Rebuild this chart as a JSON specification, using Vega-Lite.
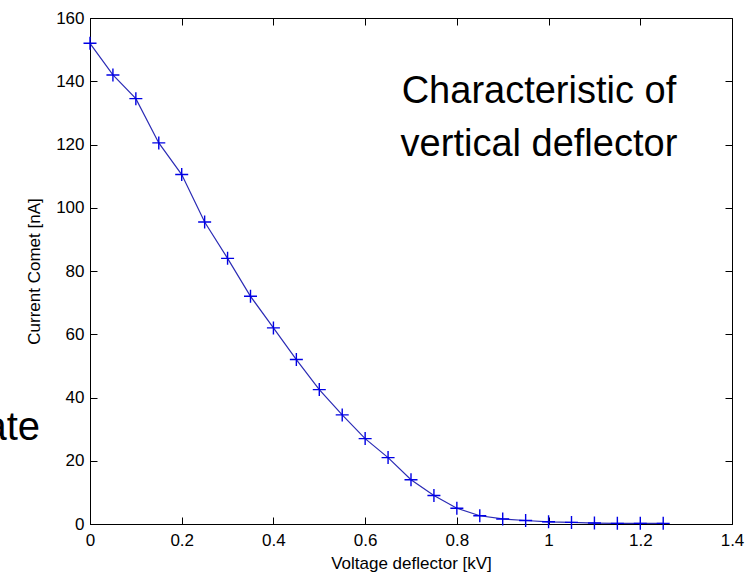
{
  "$schema": "https://vega.github.io/schema/vega-lite/v6.json",
  "autosize": {"type": "none"},
  "width": 642,
  "height": 506,
  "padding": {"left": 90, "top": 18, "right": 23, "bottom": 54},
  "background": "white",
  "config": {
    "view": {"stroke": "black", "strokeWidth": 1},
    "axis": {
      "grid": false,
      "domainColor": "black",
      "tickColor": "black",
      "labelColor": "black",
      "titleColor": "black",
      "labelFont": "Liberation Sans",
      "titleFont": "Liberation Sans",
      "labelFontSize": 17,
      "titleFontSize": 17,
      "titleFontWeight": "normal",
      "labelFlush": false,
      "tickSize": -7
    }
  },
  "datasets": {
    "curve": [
      {"v": 0.00, "i": 152},
      {"v": 0.05, "i": 142},
      {"v": 0.10, "i": 134.5},
      {"v": 0.15, "i": 120.5},
      {"v": 0.20, "i": 110.5},
      {"v": 0.25, "i": 95.5},
      {"v": 0.30, "i": 84},
      {"v": 0.35, "i": 72},
      {"v": 0.40, "i": 62},
      {"v": 0.45, "i": 52},
      {"v": 0.50, "i": 42.5},
      {"v": 0.55, "i": 34.5},
      {"v": 0.60, "i": 27},
      {"v": 0.65, "i": 21},
      {"v": 0.70, "i": 14},
      {"v": 0.75, "i": 9},
      {"v": 0.80, "i": 5},
      {"v": 0.85, "i": 2.6},
      {"v": 0.90, "i": 1.6},
      {"v": 0.95, "i": 1.1},
      {"v": 1.00, "i": 0.7},
      {"v": 1.05, "i": 0.5},
      {"v": 1.10, "i": 0.3},
      {"v": 1.15, "i": 0.2},
      {"v": 1.20, "i": 0.2},
      {"v": 1.25, "i": 0.2}
    ],
    "titleNote": [
      {"v": 0.979, "i": 133.2, "t": "Characteristic of"},
      {"v": 0.979, "i": 116.4, "t": "vertical deflector"}
    ],
    "sideNote": [
      {"v": -0.109, "i": 26.6, "t": "ate"}
    ]
  },
  "layer": [
    {
      "data": {"name": "curve"},
      "mark": {"type": "line", "color": "#2b2bb5", "strokeWidth": 1.2},
      "encoding": {
        "x": {"field": "v", "type": "quantitative", "scale": {"domain": [0, 1.4], "nice": false},
          "axis": {"title": "Voltage deflector [kV]", "values": [0, 0.2, 0.4, 0.6, 0.8, 1, 1.2, 1.4], "format": "~g", "labelPadding": 15, "titlePadding": 7}},
        "y": {"field": "i", "type": "quantitative", "scale": {"domain": [0, 160], "nice": false},
          "axis": {"title": "Current Comet [nA]", "values": [0, 20, 40, 60, 80, 100, 120, 140, 160], "labelPadding": 13, "titlePadding": 12}}
      }
    },
    {
      "data": {"name": "curve"},
      "mark": {"type": "point", "shape": "M-1,0L1,0M0,-1L0,1", "size": 169, "filled": false, "color": "#0000e6", "strokeWidth": 1.4, "opacity": 1},
      "encoding": {
        "x": {"field": "v", "type": "quantitative", "axis": {"orient": "top", "labels": false, "domain": false, "title": null, "values": [0, 0.2, 0.4, 0.6, 0.8, 1, 1.2, 1.4]}},
        "y": {"field": "i", "type": "quantitative", "axis": {"orient": "right", "labels": false, "domain": false, "title": null, "values": [0, 20, 40, 60, 80, 100, 120, 140, 160]}}
      }
    },
    {
      "data": {"name": "titleNote"},
      "mark": {"type": "text", "font": "Liberation Sans", "fontSize": 38, "align": "center", "baseline": "alphabetic", "color": "black"},
      "encoding": {
        "x": {"field": "v", "type": "quantitative", "axis": null},
        "y": {"field": "i", "type": "quantitative", "axis": null},
        "text": {"field": "t"}
      }
    },
    {
      "data": {"name": "sideNote"},
      "mark": {"type": "text", "font": "Liberation Sans", "fontSize": 40, "align": "right", "baseline": "alphabetic", "color": "black"},
      "encoding": {
        "x": {"field": "v", "type": "quantitative", "axis": null},
        "y": {"field": "i", "type": "quantitative", "axis": null},
        "text": {"field": "t"}
      }
    }
  ],
  "resolve": {"axis": {"x": "independent", "y": "independent"}}
}
